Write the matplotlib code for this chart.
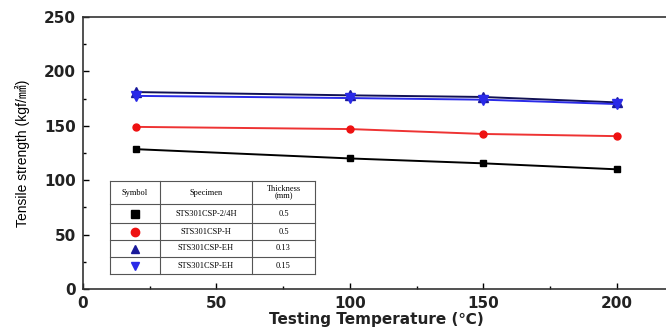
import numpy as np
import matplotlib
matplotlib.use('Agg')
import matplotlib.pyplot as plt
from matplotlib.ticker import MultipleLocator

# Data
temps = [20, 100, 150, 200]
s_24h = [128.5, 120, 115.5, 110]
s_h = [149, 147, 142.5, 140.5]
s_eh13 = [181, 178, 176.5, 171.5]
s_eh15 = [177.5, 175.5, 174, 170]

specimens = ['STS301CSP-2/4H', 'STS301CSP-H', 'STS301CSP-EH', 'STS301CSP-EH']
thickness = ['0.5', '0.5', '0.13', '0.15']

styles = [('s', 'black', 'black'),
          ('o', '#ee1111', '#ee1111'),
          ('^', '#1a1a9a', '#1a1a9a'),
          ('v', '#2a2ae8', '#2a2ae8')]

fig = plt.figure(figsize=(6.66, 3.34), dpi=100)
ax = fig.add_axes([83 / 666, 1 - 289 / 334, 587 / 666, 272 / 334])

series = [s_24h, s_h, s_eh13, s_eh15]
sizes = [5, 5, 7, 7]
lines = ['black', '#ee3333', '#111155', '#2a2ae8']
for vals, (m, fc, ec), ms, lc in zip(series, styles, sizes, lines):
    ax.plot(temps, vals, color=lc, lw=1.4, marker=m, ms=ms,
            mfc=fc, mec=ec, zorder=3)

ax.set_xlim(0, 220)
ax.set_ylim(0, 250)
ax.xaxis.set_major_locator(MultipleLocator(50))
ax.xaxis.set_minor_locator(MultipleLocator(25))
ax.yaxis.set_major_locator(MultipleLocator(50))
ax.yaxis.set_minor_locator(MultipleLocator(25))
ax.tick_params(which='both', direction='in', top=False, right=False)
ax.tick_params(which='major', length=4, width=1, pad=5)
ax.tick_params(which='minor', length=2.5, width=1)
for sp in ax.spines.values():
    sp.set_linewidth(1.2)
    sp.set_color('#333333')

for lab in ax.get_xticklabels() + ax.get_yticklabels():
    lab.set_fontfamily('DejaVu Sans')
    lab.set_fontweight('bold')
    lab.set_fontsize(11)
    lab.set_color('#222222')

ax.set_xlabel('Testing Temperature (\u2103)', fontsize=11, fontweight='bold',
              family=['DejaVu Sans'], labelpad=1, color='#222222')
ax.set_ylabel('Tensile strength (kgf/\u339f)', fontsize=10,
              family=['Liberation Sans', 'Noto Sans CJK JP'], labelpad=10)

# Inset table with symbol legend
tx = fig.add_axes([110 / 666, 1 - 274 / 334, 205 / 666, 93 / 334])
tx.set_xlim(0, 205)
tx.set_ylim(93, 0)
tx.axis('off')
cols = [0, 50, 142, 205]
rows = [0, 23, 42, 59, 76, 93]
for c in cols:
    tx.plot([c, c], [0, 93], color='#555555', lw=0.8, clip_on=False)
for r in rows:
    tx.plot([0, 205], [r, r], color='#555555', lw=0.8, clip_on=False)

tfont = dict(family='Liberation Serif', fontsize=6, ha='center', va='center')
tx.text(25, 11.5, 'Symbol', **tfont)
tx.text(96, 11.5, 'Specimen', **tfont)
tx.text(173.5, 11.5, 'Thickness\n(mm)', linespacing=1.0, **tfont)
for i in range(4):
    yc = (rows[i + 1] + rows[i + 2]) / 2
    m, fc, ec = styles[i]
    tx.plot(25, yc, marker=m, ms=6, mfc=fc, mec=ec, ls='none')
    tx.text(96, yc, specimens[i], **tfont)
    tx.text(173.5, yc, thickness[i], **tfont)

fig.savefig('out.png', dpi=100)
